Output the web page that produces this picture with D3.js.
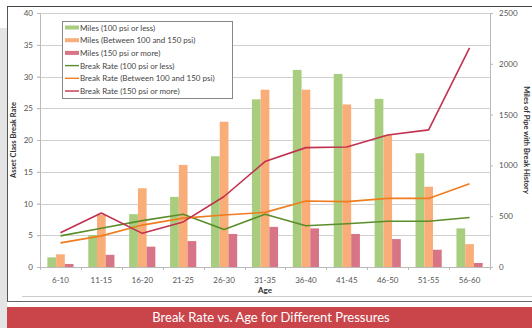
<!DOCTYPE html>
<html><head><meta charset="utf-8">
<script src="https://cdn.jsdelivr.net/npm/d3@7"></script>
<style>
html,body{margin:0;padding:0;background:#fff;}
svg{display:block;font-family:Lato,"Open Sans",sans-serif;}
</style></head>
<body>
<svg id="chart" width="532" height="328"></svg>
<script>
const categories = ["6-10","11-15","16-20","21-25","26-30","31-35","36-40","41-45","46-50","51-55","56-60"];
const milesLow  = [95, 315, 520, 690, 1090, 1650, 1940, 1900, 1655, 1120, 380];
const milesMid  = [125, 515, 775, 1005, 1430, 1745, 1745, 1600, 1300, 790, 225];
const milesHigh = [30, 120, 200, 255, 325, 395, 380, 325, 275, 170, 40];
const rateLow   = [4.9, 6.1, 7.3, 8.3, 5.9, 8.3, 6.5, 6.8, 7.2, 7.2, 7.8];
const rateMid   = [3.8, 4.9, 6.6, 7.7, 8.2, 8.6, 10.4, 10.3, 10.8, 10.8, 13.1];
const rateHigh  = [5.4, 8.5, 5.3, 7.1, 11.1, 16.6, 18.8, 18.9, 20.8, 21.6, 34.5];
const leftTicks = [0,5,10,15,20,25,30,35,40];
const rightTicks = [0,500,1000,1500,2000,2500];
const seriesNames = ["Miles (100 psi or less)","Miles (Between 100 and 150 psi)","Miles (150 psi or more)",
  "Break Rate (100 psi or less)","Break Rate (Between 100 and 150 psi)","Break Rate (150 psi or more)"];
const title = "Break Rate vs. Age for Different Pressures";

const barColors = ["#a8cd7e","#f9ae7a","#d77587"];
const lineColors = ["#5b8e2a","#ef7d1f","#c2314f"];

const svg = d3.select("#chart");
// background pieces
svg.append("rect").attr("x",0).attr("y",28).attr("width",7).attr("height",300).attr("fill","#e4e4e4");
svg.append("line").attr("x1",7.5).attr("x2",7.5).attr("y1",6).attr("y2",302).attr("stroke","#555").attr("stroke-width",1);
svg.append("line").attr("x1",7).attr("x2",532).attr("y1",6.5).attr("y2",6.5).attr("stroke","#444").attr("stroke-width",1.2);
svg.append("line").attr("x1",22).attr("x2",532).attr("y1",296.5).attr("y2",296.5).attr("stroke","#ccc");
svg.append("line").attr("x1",7).attr("x2",532).attr("y1",301.5).attr("y2",301.5).attr("stroke","#666").attr("stroke-width",1.2);
svg.append("rect").attr("x",7).attr("y",307).attr("width",525).attr("height",21).attr("fill","#c9454a");
svg.append("text").attr("x",271).attr("y",322).attr("text-anchor","middle").attr("fill","#fff")
  .attr("font-size",13).text(title);

const m = {l:40, r:490, t:13, b:267};
const x = d3.scaleBand().domain(categories).range([m.l, m.r]);
const yL = d3.scaleLinear().domain([0,40]).range([m.b, m.t]);
const yR = d3.scaleLinear().domain([0,2500]).range([m.b, m.t]);

// gridlines
svg.append("g").selectAll("line").data(leftTicks).join("line")
  .attr("x1",m.l-3).attr("x2",m.r).attr("y1",d=>Math.round(yL(d))+0.5).attr("y2",d=>Math.round(yL(d))+0.5)
  .attr("stroke","#d0d0d0").attr("stroke-width",1);
// left axis
const gL = svg.append("g").attr("transform",`translate(${m.l},0)`)
  .call(d3.axisLeft(yL).tickValues(leftTicks).tickSize(3).tickPadding(4));
gL.select(".domain").attr("stroke","#bbb");
gL.selectAll(".tick line").attr("stroke","#bbb");
gL.selectAll("text").attr("font-size",8).attr("fill","#555").attr("font-family","Lato,sans-serif");
// right axis
const gR = svg.append("g").attr("transform",`translate(${m.r},0)`)
  .call(d3.axisRight(yR).tickValues(rightTicks).tickFormat(d3.format("d")).tickSize(3).tickPadding(6));
gR.select(".domain").attr("stroke","#bbb");
gR.selectAll(".tick line").attr("stroke","#bbb");
gR.selectAll("text").attr("font-size",8).attr("fill","#555").attr("font-family","Lato,sans-serif");

// bars
const bw = x.bandwidth();
const groupW = bw*0.64;
const barW = groupW/3;
const milesSeries = [milesLow, milesMid, milesHigh];
milesSeries.forEach((s,i)=>{
  svg.append("g").selectAll("rect").data(s).join("rect")
    .attr("x",(d,j)=>x(categories[j]) + (bw-groupW)/2 + i*barW)
    .attr("width",barW)
    .attr("y",d=>yR(d)).attr("height",d=>m.b-yR(d))
    .attr("fill",barColors[i]);
});

// x axis
const gX = svg.append("g").attr("transform",`translate(0,${m.b})`)
  .call(d3.axisBottom(x).tickSize(0).tickPadding(10));
gX.select(".domain").attr("stroke","#bbb");
gX.selectAll("text").attr("font-size",8).attr("fill","#555").attr("font-family","Lato,sans-serif");
svg.append("g").selectAll("line").data(categories.concat(["end"])).join("line")
  .attr("x1",(d,j)=>Math.round(m.l + j*bw)+0.5).attr("x2",(d,j)=>Math.round(m.l + j*bw)+0.5)
  .attr("y1",m.b).attr("y2",m.b+3).attr("stroke","#bbb");

// lines
const rateSeries = [rateLow, rateMid, rateHigh];
const line = d3.line().x((d,j)=>x(categories[j])+bw/2).y(d=>yL(d));
rateSeries.forEach((s,i)=>{
  svg.append("path").datum(s).attr("d",line).attr("fill","none")
    .attr("stroke",lineColors[i]).attr("stroke-width",1.6).attr("stroke-linejoin","round");
});

// axis titles
svg.append("text").attr("x",265).attr("y",293).attr("text-anchor","middle").attr("font-size",8)
  .attr("font-weight","bold").attr("fill","#333").text("Age");
svg.append("text").attr("transform","translate(16,140) rotate(-90)").attr("text-anchor","middle")
  .attr("font-size",7.5).attr("font-weight","bold").attr("fill","#333").text("Asset Class Break Rate");
svg.append("text").attr("transform","translate(524,140) rotate(90)").attr("text-anchor","middle")
  .attr("font-size",7.5).attr("font-weight","bold").attr("fill","#333").text("Miles of Pipe with Break History");

// legend
const lg = svg.append("g");
lg.append("rect").attr("x",62.5).attr("y",21.5).attr("width",170).attr("height",77)
  .attr("fill","#fff").attr("stroke","#888");
seriesNames.forEach((n,i)=>{
  const yy = 27.5 + i*12.7;
  const isBar = i<3;
  lg.append("line").attr("x1",65).attr("x2",79).attr("y1",yy).attr("y2",yy)
    .attr("stroke",isBar?barColors[i]:lineColors[i-3]).attr("stroke-width",isBar?4:1.4);
  lg.append("text").attr("x",80).attr("y",yy+3).attr("font-size",8).attr("fill","#444").text(n);
});
</script>
</body></html>
